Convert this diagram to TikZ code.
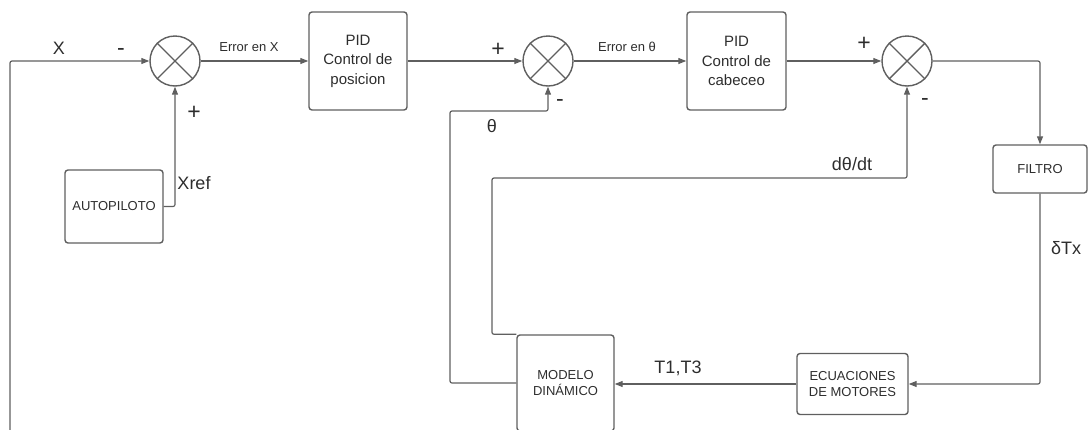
\documentclass[tikz,border=0pt]{standalone}
\usepackage{fontspec}
\setmainfont{Liberation Sans}
\usetikzlibrary{arrows.meta}
\definecolor{ln}{RGB}{95,95,95}
\definecolor{tx}{RGB}{45,45,45}
\begin{document}
\begin{tikzpicture}[x=1pt,y=-1pt,
 box/.style={draw=ln,line width=1.4pt,rounded corners=3pt,align=center,inner sep=0pt,text=tx},
 pidtext/.style={font=\fontsize{15}{19.5}\selectfont},
 boxtext/.style={font=\fontsize{13}{16}\selectfont},
 sumnode/.style={draw=ln,circle,line width=1.4pt,minimum size=50pt,inner sep=0pt},
 conn/.style={draw=ln,line width=1.2pt,rounded corners=2pt,-{Triangle[length=8pt,width=6pt]}},
 big/.style={font=\fontsize{18}{20}\selectfont,text=tx,inner sep=0pt},
 sign/.style={font=\fontsize{23}{25}\selectfont,text=tx,inner sep=0pt},
 small/.style={font=\fontsize{13}{15}\selectfont,text=tx,inner sep=0pt},
]
\useasboundingbox (0,0) rectangle (1088,429);
% summing junctions
\node[sumnode] (s1) at (175,61) {};
\node[sumnode] (s2) at (548,61) {};
\node[sumnode] (s3) at (907,61) {};
\foreach \s in {s1,s2,s3}{
  \draw[ln,line width=1.4pt] (\s.north west) -- (\s.south east);
  \draw[ln,line width=1.4pt] (\s.north east) -- (\s.south west);
}
% blocks
\node[box,pidtext,minimum width=98pt,minimum height=98pt] (pid1) at (358,61) {PID\\Control de\\posicion};
\node[box,pidtext,minimum width=99pt,minimum height=98pt] (pid2) at (736.5,61) {PID\\Control de\\cabeceo};
\node[box,boxtext,minimum width=98pt,minimum height=73pt] (auto) at (114,206.5) {AUTOPILOTO};
\node[box,boxtext,minimum width=94pt,minimum height=48pt] (filt) at (1040,169) {FILTRO};
\node[box,boxtext,minimum width=111pt,minimum height=61pt] (ecu) at (852.5,384) {ECUACIONES\\DE MOTORES};
\node[box,boxtext,minimum width=97pt,minimum height=96pt] (mod) at (565.5,383) {MODELO\\DIN\'AMICO};
% helper coordinates
\coordinate (xbot) at (60,432);
\coordinate (xcorner) at (10,432);
\coordinate (tl) at (450,111);
\coordinate (dl) at (492,178);
% connectors
\draw[conn] (xbot) -- (xcorner) |- (s1.west);
\draw[conn] (auto.east) -| (s1.south);
\draw[conn] (s1.east) -- (pid1.west);
\draw[conn] (pid1.east) -- (s2.west);
\draw[conn] (s2.east) -- (pid2.west);
\draw[conn] (pid2.east) -- (s3.west);
\draw[conn] (s3.east) -| (filt.north);
\draw[conn] (filt.south) |- (ecu.east);
\draw[conn] (ecu.west) -- (ecu.west -| mod.east);
\draw[conn] (mod.west) -| (tl) -| (s2.south);
\draw[conn] (mod.north west) -| (dl) -| (s3.south);
% labels
\node[big] (lx) at (59,48) {X};
\node[sign] (m1) at (121,52) {-};
\node[small] (e1) at (249,47) {Error en X};
\node[sign] (p1) at (194,113) {+};
\node[big] (lxref) at (194,183) {Xref};
\node[sign] (p2) at (498,50) {+};
\node[small] (e2) at (627,47) {Error en θ};
\node[sign] (m2) at (560,103) {-};
\node[big] (lth) at (492,126) {θ};
\node[sign] (p3) at (864,44) {+};
\node[sign] (m3) at (925,102) {-};
\node[big] (ldt) at (852,164) {dθ/dt};
\node[big,anchor=west] (ldtx) at (1051,248) {δTx};
\node[big] (lt) at (678,368) {T1,T3};
\end{tikzpicture}
\end{document}
